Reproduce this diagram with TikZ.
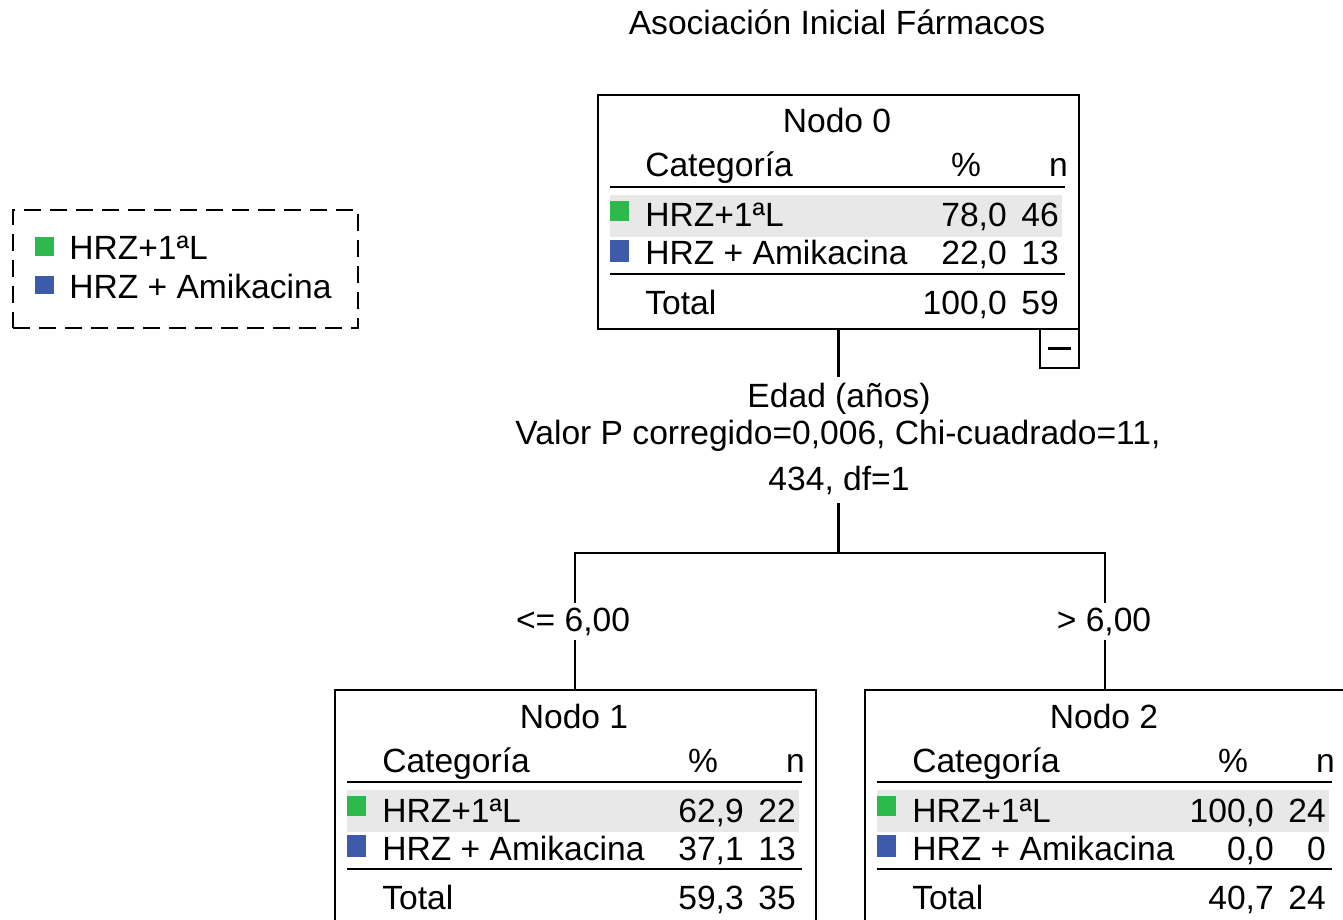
\documentclass[tikz,border=0pt]{standalone}
\usepackage{fontspec}
\setmainfont{Liberation Sans}
\definecolor{cgreen}{RGB}{45,185,75}
\definecolor{cblue}{RGB}{62,90,170}
\definecolor{rowgray}{RGB}{232,232,232}
\tikzset{
  txt/.style={inner sep=0pt, font=\fontsize{25.2}{30}\selectfont},
  nodebox/.style={draw, line width=2.2pt, inner sep=0pt, minimum width=360.75pt, minimum height=175.5pt},
  tablerule/.style={line width=2pt},
  conn/.style={line width=2pt},
  legendbox/.style={draw, line width=2.2pt, dash pattern=on 12.75pt off 6.75pt, inner sep=0pt, minimum width=258.75pt, minimum height=88.5pt},
  collapsebox/.style={draw, line width=2.2pt, inner sep=0pt, minimum size=29.25pt}
}
% #1 left x, #2 top y, #3 number, #4 p1, #5 n1, #6 p2, #7 n2, #8 ptot, #9 ntot
\newcommand\treenode[9]{%
  \begin{scope}[shift={(#1,#2)}]
    \node[nodebox] (n#3) at (240.5,117) {};
    \fill[rowgray] (12,100) rectangle (464,142);
    \draw[tablerule] (12,92) -- (467,92);
    \draw[tablerule] (12,179) -- (467,179);
    \node[txt, anchor=base] (n#3-title) at (239,38) {Nodo #3};
    \node[txt, anchor=base west] (n#3-hcat) at (47,82) {Categoría};
    \node[txt, anchor=base] (n#3-hpct) at (368,82) {\%};
    \node[txt, anchor=base east] (n#3-hn) at (470,82) {n};
    \fill[cgreen] (12,106) rectangle (31,126);
    \node[txt, anchor=base west] (n#3-c1) at (47,132) {HRZ+1ªL};
    \node[txt, anchor=base east] (n#3-p1) at (409,132) {#4};
    \node[txt, anchor=base east] (n#3-n1) at (461,132) {#5};
    \fill[cblue] (12,145) rectangle (31,167);
    \node[txt, anchor=base west] (n#3-c2) at (47,170) {HRZ + Amikacina};
    \node[txt, anchor=base east] (n#3-p2) at (409,170) {#6};
    \node[txt, anchor=base east] (n#3-n2) at (461,170) {#7};
    \node[txt, anchor=base west] (n#3-tot) at (47,219) {Total};
    \node[txt, anchor=base east] (n#3-pt) at (409,219) {#8};
    \node[txt, anchor=base east] (n#3-nt) at (461,219) {#9};
  \end{scope}%
}
\begin{document}
\begin{tikzpicture}[x=0.75pt,y=-0.75pt]
  \useasboundingbox (0,0) rectangle (1343,920);
  \clip (0,0) rectangle (1343,920);
  \fill[white] (0,0) rectangle (1343,920);

  \node[txt, anchor=base] (title) at (837,35) {Asociación Inicial Fármacos};

  % legend
  \node[legendbox] (leg) at (185.5,269) {};
  \fill[cgreen] (35,237) rectangle (54,256);
  \node[txt, anchor=base west] (leg1) at (69,259) {HRZ+1ªL};
  \fill[cblue] (35,276) rectangle (54,294);
  \node[txt, anchor=base west] (leg2) at (69,298) {HRZ + Amikacina};

  % nodes
  \treenode{598}{95}{0}{78,0}{46}{22,0}{13}{100,0}{59}
  \treenode{335}{690}{1}{62,9}{22}{37,1}{13}{59,3}{35}
  \treenode{865}{690}{2}{100,0}{24}{0,0}{0}{40,7}{24}

  % collapse box
  \node[collapsebox] (c0) at (1059.5,348.5) {};
  \draw[line width=2.2pt] ([xshift=-8.6pt]c0.center) -- ([xshift=8.6pt]c0.center);

  % split labels
  \node[txt, anchor=base] (sp1) at (839,407) {Edad (años)};
  \node[txt, anchor=base] (sp2) at (838,444) {Valor P corregido=0,006, Chi-cuadrado=11,};
  \node[txt, anchor=base] (sp3) at (839,490) {434, df=1};

  % branch labels
  \node[txt, anchor=base] (lab1) at (573,631) {<= 6,00};
  \node[txt, anchor=base] (lab2) at (1104,631) {> 6,00};

  % connectors
  \coordinate (s0) at (838.5,377);
  \coordinate (s1) at (838.5,503);
  \coordinate (j) at (838.5,553);
  \coordinate (l1) at (575,603);
  \coordinate (l2) at (575,640);
  \coordinate (r1) at (1105,603);
  \coordinate (r2) at (1105,640);
  \draw[conn] (n0.south) -- (s0);
  \draw[conn] (s1) -- (j);
  \draw[conn] (l1) |- (j) -| (r1);
  \draw[conn] (l2) -- (l2 |- n1.north);
  \draw[conn] (r2) -- (r2 |- n2.north);
\end{tikzpicture}
\end{document}
